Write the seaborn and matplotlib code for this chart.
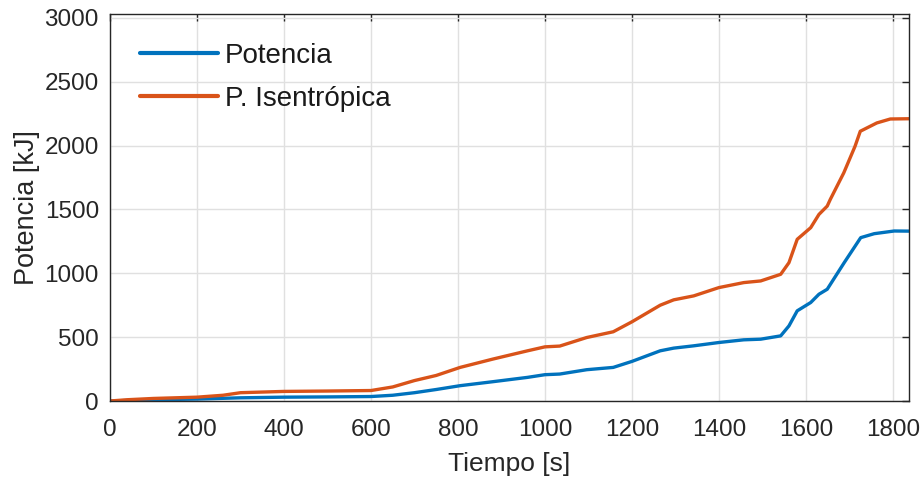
import numpy as np
import pandas as pd
import matplotlib
matplotlib.use("Agg")
import matplotlib.pyplot as plt
import seaborn as sns

# --- data ---
t_pot = [0, 50, 100, 200, 300, 400, 500, 600, 650, 700, 750, 805, 880, 960, 1000, 1034,
         1096, 1157, 1200, 1265, 1296, 1342, 1400, 1457, 1496, 1542, 1561, 1580, 1611,
         1630, 1649, 1688, 1726, 1757, 1803, 1837]
potencia = [0, 5, 10, 15, 25, 30, 32, 35, 45, 65, 90, 120, 151, 185, 206, 211,
            245, 263, 310, 393, 414, 432, 458, 479, 484, 510, 588, 706, 771,
            836, 875, 1083, 1279, 1310, 1331, 1330]

t_isen = [0, 40, 100, 200, 260, 300, 350, 400, 500, 600, 650, 700, 750, 805, 880, 960,
          1000, 1034, 1096, 1157, 1200, 1265, 1296, 1342, 1400, 1457, 1496, 1542, 1561,
          1580, 1611, 1630, 1649, 1656, 1687, 1713, 1725, 1763, 1794, 1837]
isentropica = [0, 10, 20, 30, 45, 65, 70, 75, 78, 82, 110, 160, 200, 263, 328, 393,
               424, 430, 497, 542, 620, 750, 792, 823, 888, 927, 940, 992, 1083,
               1266, 1357, 1461, 1526, 1578, 1786, 1995, 2112, 2177, 2208, 2210]

labels = ["Potencia", "P. Isentrópica"]
colors = ["#0072BD", "#D95319"]

df = pd.concat([
    pd.DataFrame({"t": t_pot, "v": potencia, "serie": labels[0]}),
    pd.DataFrame({"t": t_isen, "v": isentropica, "serie": labels[1]}),
])

sns.set_theme(style="white")
plt.rcParams["font.family"] = ["Liberation Sans", "DejaVu Sans"]

fig = plt.figure(figsize=(9.24, 4.8), dpi=100)
ax = fig.add_axes([110/924, 1-401/480, 799/924, 387/480])

sns.lineplot(data=df, x="t", y="v", hue="serie", palette=colors, hue_order=labels,
             linewidth=2.4, ax=ax, legend=True, estimator=None, sort=True)

ax.set_xlim(0, 1837)
ax.set_ylim(0, 3030)
ax.set_xticks(np.arange(0, 1801, 200))
ax.set_yticks(np.arange(0, 3001, 500))
ax.grid(True, color="#e0e0e0", linewidth=1.0)
ax.set_axisbelow(True)
ax.set_xlabel("Tiempo [s]", fontsize=19, color="#262626", labelpad=8)
ax.set_ylabel("Potencia [kJ]", fontsize=19.5, color="#262626", labelpad=3)
ax.tick_params(direction="in", length=5, width=1.0, colors="#262626",
               labelsize=17.5, top=True, right=True, labeltop=False, labelright=False)
ax.tick_params(axis="x", pad=13)
ax.tick_params(axis="y", pad=8)
for s in ax.spines.values():
    s.set_color("#262626")
    s.set_linewidth(1.0)

leg = ax.legend(loc="upper left", bbox_to_anchor=(0.0375, 0.925), frameon=False,
                fontsize=20, handlelength=2.8, handletextpad=0.25, labelspacing=0.6,
                borderpad=0, borderaxespad=0)
for line in leg.get_lines():
    line.set_linewidth(3.0)
for txt in leg.get_texts():
    txt.set_color("#1a1a1a")

fig.savefig("out.png", dpi=100)
